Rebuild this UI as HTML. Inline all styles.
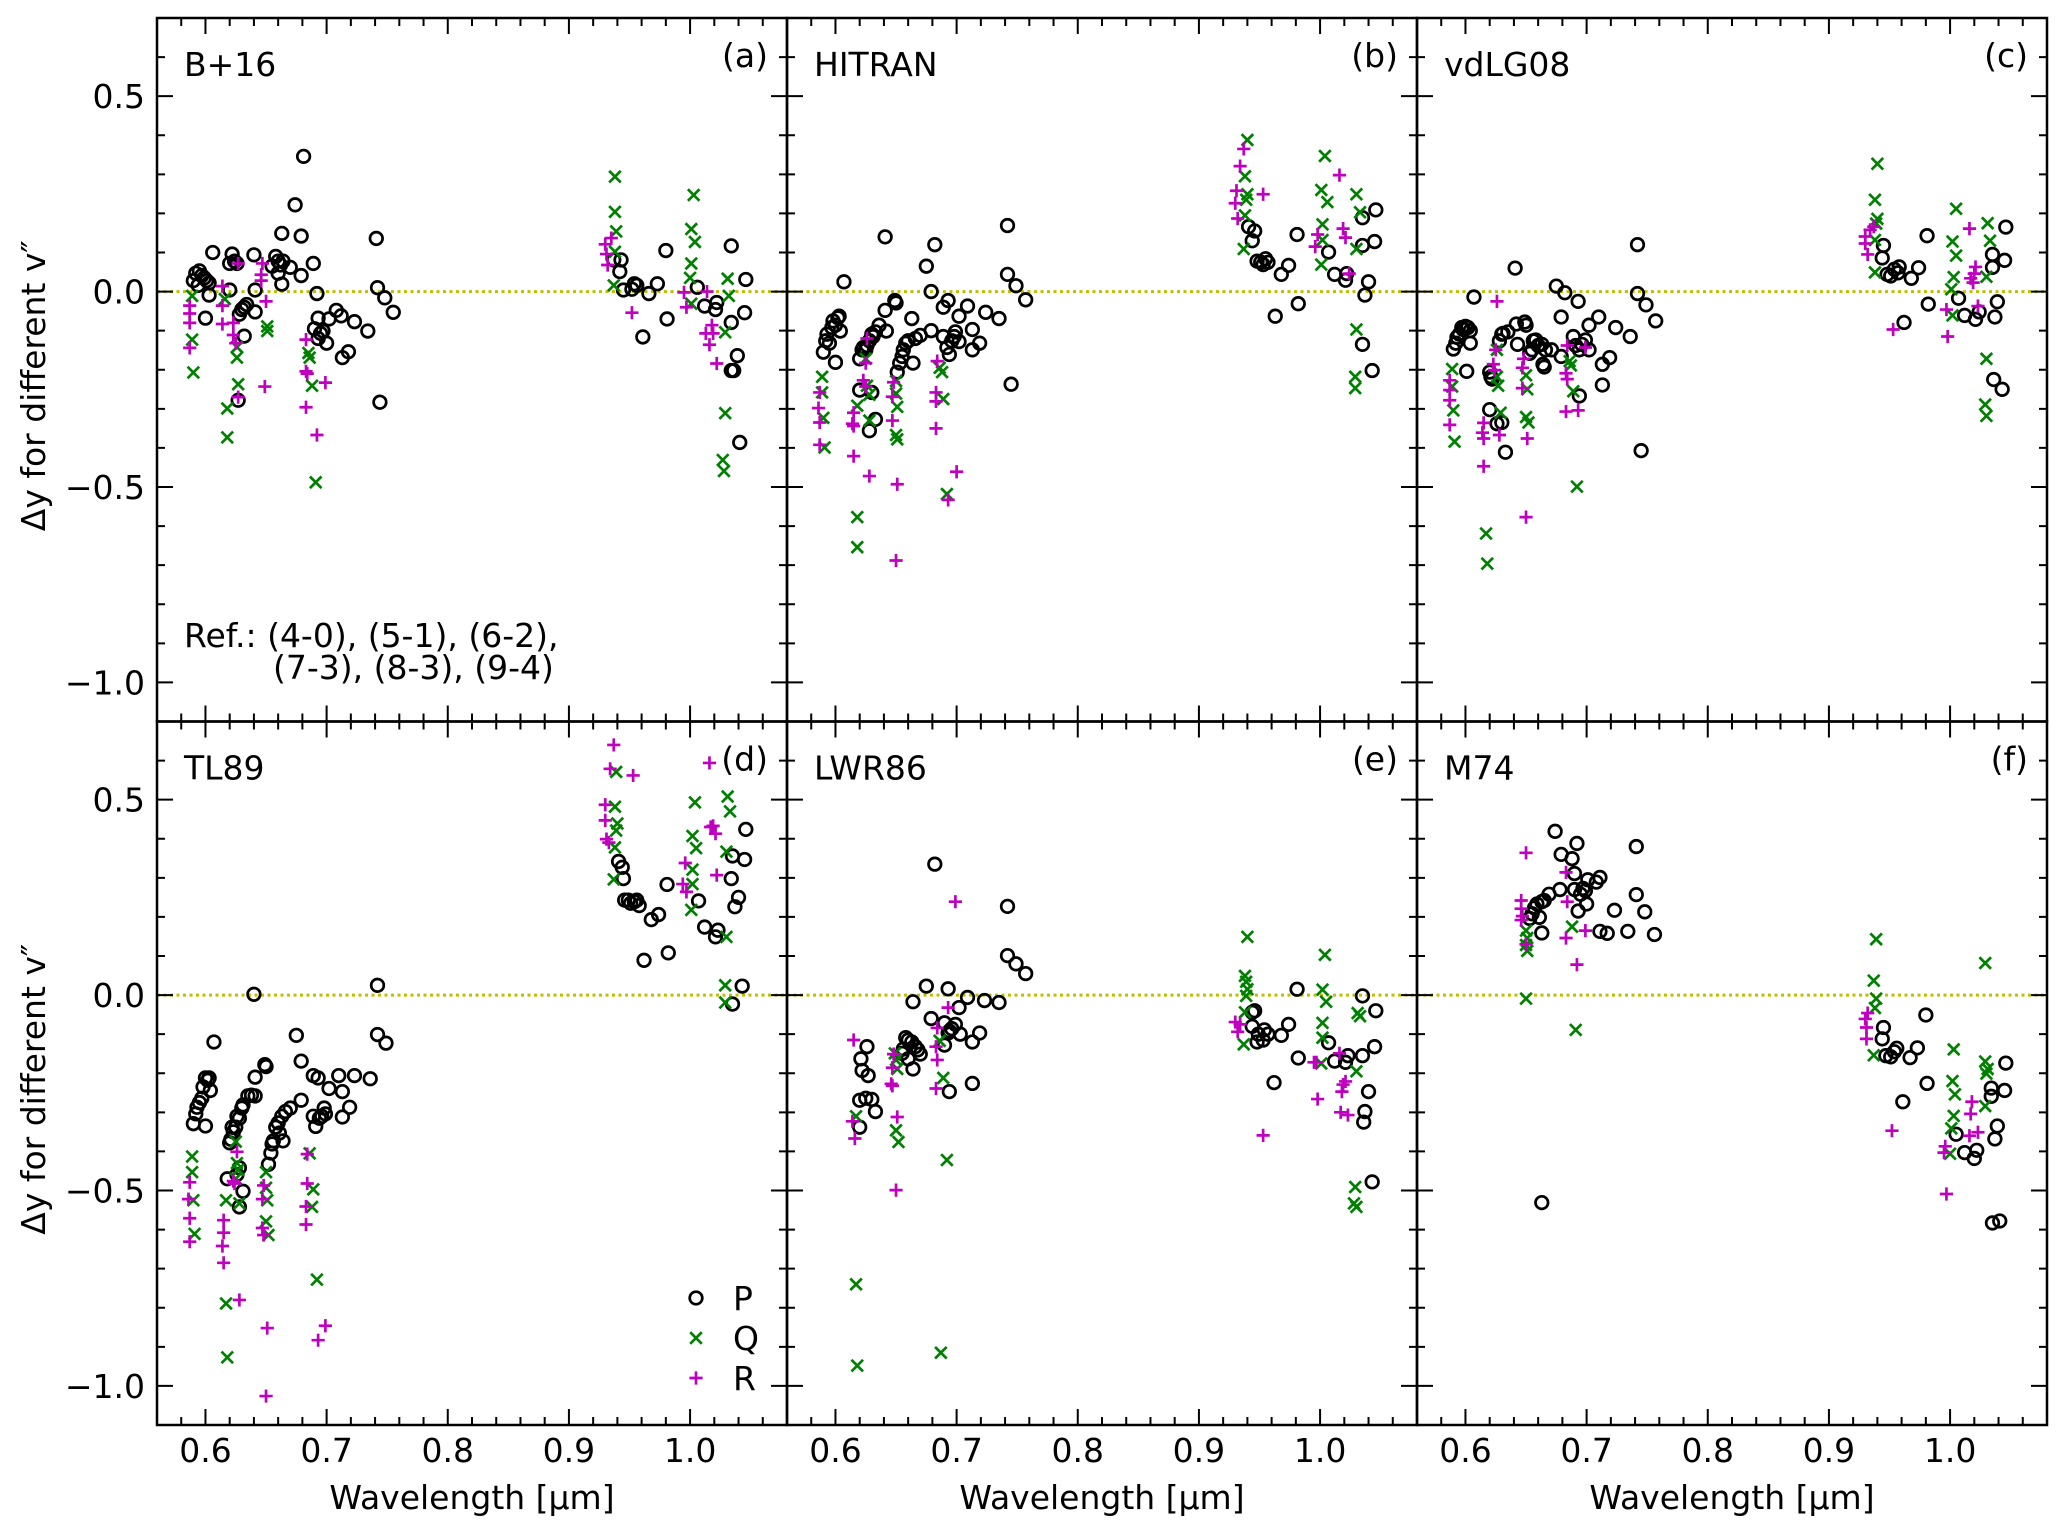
<!DOCTYPE html>
<html><head><meta charset="utf-8"><style>
html,body{margin:0;padding:0;background:#fff;}
svg{display:block;font-family:"DejaVu Sans","Liberation Sans",sans-serif;}
</style></head><body>
<svg id="chart" xmlns="http://www.w3.org/2000/svg" width="2067" height="1532" viewBox="0 0 2067 1532"></svg>
<script>
const panelNames=['B+16','HITRAN','vdLG08','TL89','LWR86','M74'];
const panelTags=['(a)','(b)','(c)','(d)','(e)','(f)'];
const xTicks=[0.6,0.7,0.8,0.9,1.0];
const xTickLabels=['0.6','0.7','0.8','0.9','1.0'];
const yTicks=[-1.0,-0.5,0.0,0.5];
const yTickLabels=['\u22121.0','\u22120.5','0.0','0.5'];

const aP=[[.590,.028],[.592,.047],[.595,.053],[.597,.041],[.599,.035],[.594,.016],[.601,.028],[.603,.022],[.606,.10],[.600,-.068],[.603,-.009],[.620,.072],[.622,.096],[.624,.078],[.626,.072],[.620,.004],[.632,-.04],[.630,-.046],[.628,-.058],[.634,-.033],[.632,-.114],[.627,-.278],[.640,.094],[.641,.004],[.641,-.052],[.658,.09],[.660,.078],[.655,.065],[.662,.068],[.664,.078],[.670,.062],[.660,.047],[.663,.149],[.663,.019],[.674,.222],[.679,.142],[.679,.041],[.681,.346],[.689,.072],[.692,-.005],[.693,-.068],[.690,-.095],[.693,-.12],[.695,-.107],[.697,-.101],[.700,-.132],[.702,-.07],[.708,-.048],[.712,-.062],[.713,-.169],[.718,-.154],[.723,-.077],[.734,-.101],[.741,.136],[.742,.01],[.748,-.016],[.744,-.283],[.755,-.053],[.937,.081],[.943,.081],[.942,.051],[.945,.004],[.952,.006],[.954,.02],[.956,.016],[.961,-.116],[.966,-.005],[.973,.02],[.980,.105],[.981,-.07],[1.006,.011],[1.012,-.037],[1.021,-.046],[1.022,-.028],[1.034,.117],[1.034,-.202],[1.036,-.202],[1.039,-.164],[1.034,-.079],[1.041,-.386],[1.045,-.054],[1.046,.031]];
const aQ=[[.589,-.011],[.589,-.123],[.590,-.207],[.618,-.299],[.618,-.373],[.616,-.019],[.626,-.142],[.626,-.169],[.627,-.237],[.651,-.089],[.651,-.101],[.691,-.488],[.688,-.241],[.686,-.169],[.685,-.157],[.938,.294],[.938,.204],[.939,.154],[.938,.102],[.937,.016],[1.003,.247],[1.001,.16],[1.004,.127],[1.001,.072],[1.000,.035],[1.001,-.031],[1.031,.033],[1.032,-.011],[1.029,-.104],[1.029,-.311],[1.027,-.431],[1.028,-.459]];
const aR=[[.587,-.036],[.587,-.056],[.587,-.08],[.587,-.144],[.614,.014],[.614,-.036],[.614,-.083],[.623,-.08],[.623,-.111],[.625,-.132],[.627,.072],[.627,-.27],[.647,.072],[.646,.043],[.646,.028],[.650,-.025],[.649,-.243],[.683,-.123],[.683,-.204],[.684,-.21],[.683,-.296],[.692,-.367],[.699,-.233],[.930,.121],[.931,.096],[.932,.068],[.935,.137],[.952,-.054],[.995,-.002],[.997,-.04],[1.014,0],[1.018,-.086],[1.019,-.107],[1.016,-.136],[1.022,-.184],[1.013,-.107]];

const bP=[[.607,.025],[.590,-.155],[.592,-.126],[.593,-.109],[.595,-.132],[.597,-.092],[.598,-.075],[.600,-.086],[.602,-.067],[.603,-.063],[.604,-.101],[.600,-.181],[.620,-.172],[.620,-.252],[.622,-.149],[.623,-.143],[.625,-.149],[.626,-.138],[.628,-.126],[.630,-.109],[.631,-.115],[.633,-.103],[.636,-.086],[.630,-.258],[.633,-.327],[.628,-.356],[.641,.14],[.641,-.048],[.642,-.101],[.649,-.023],[.650,-.029],[.651,-.206],[.653,-.183],[.655,-.166],[.656,-.149],[.658,-.132],[.660,-.126],[.663,-.069],[.664,-.183],[.666,-.12],[.670,-.112],[.675,.065],[.679,0],[.679,-.1],[.682,.12],[.689,-.04],[.689,-.115],[.693,-.023],[.692,-.143],[.694,-.161],[.696,-.126],[.698,-.115],[.699,-.103],[.702,-.128],[.702,-.063],[.709,-.037],[.713,-.097],[.713,-.149],[.719,-.132],[.724,-.053],[.735,-.069],[.742,.169],[.742,.044],[.745,-.237],[.749,.015],[.757,-.021],[.941,.166],[.946,.155],[.944,.13],[.948,.078],[.951,.075],[.953,.069],[.955,.084],[.957,.075],[.968,.044],[.974,.067],[.963,-.063],[.981,.146],[.982,-.031],[1.007,.101],[1.012,.044],[1.021,.029],[1.022,.046],[1.035,.189],[1.035,.118],[1.040,.025],[1.037,-.009],[1.035,-.135],[1.043,-.202],[1.046,.209],[1.045,.128]];
const bQ=[[.589,-.218],[.589,-.258],[.590,-.323],[.591,-.399],[.618,-.292],[.618,-.577],[.618,-.654],[.625,-.172],[.626,-.241],[.628,-.264],[.628,-.33],[.650,-.229],[.650,-.261],[.651,-.295],[.650,-.367],[.651,-.378],[.686,-.195],[.688,-.206],[.689,-.275],[.692,-.518],[.940,.388],[.938,.295],[.940,.249],[.939,.235],[.938,.195],[.937,.109],[1.004,.347],[1.001,.26],[1.006,.229],[1.002,.172],[1.002,.132],[1.001,.069],[1.030,.249],[1.033,.203],[1.030,.109],[1.030,-.097],[1.029,-.218],[1.029,-.247]];
const bR=[[.587,-.258],[.586,-.298],[.587,-.335],[.587,-.392],[.615,-.31],[.614,-.338],[.615,-.344],[.615,-.421],[.628,-.472],[.623,-.227],[.626,-.12],[.625,-.183],[.625,-.243],[.648,-.232],[.647,-.269],[.647,-.33],[.651,-.493],[.650,-.688],[.684,-.178],[.683,-.258],[.683,-.281],[.683,-.35],[.700,-.461],[.693,-.533],[.937,.365],[.934,.321],[.931,.258],[.930,.226],[.932,.187],[.953,.249],[1.016,.298],[.998,.146],[.996,.115],[1.019,.161],[1.021,.138],[1.024,.046]];

const cP=[[.607,-.014],[.590,-.147],[.592,-.132],[.593,-.117],[.595,-.109],[.597,-.092],[.598,-.097],[.600,-.089],[.602,-.092],[.604,-.1],[.604,-.132],[.601,-.204],[.620,-.206],[.621,-.218],[.622,-.224],[.620,-.302],[.626,-.338],[.630,-.335],[.633,-.411],[.628,-.126],[.630,-.109],[.631,-.107],[.635,-.103],[.641,.06],[.642,-.083],[.643,-.135],[.649,-.078],[.650,-.086],[.653,-.158],[.655,-.149],[.656,-.126],[.658,-.124],[.660,-.138],[.663,-.135],[.664,-.186],[.665,-.193],[.666,-.149],[.671,-.149],[.675,.014],[.679,-.065],[.679,-.166],[.682,-.003],[.689,-.115],[.691,-.138],[.693,-.025],[.694,-.149],[.696,-.135],[.699,-.124],[.702,-.149],[.694,-.267],[.702,-.086],[.710,-.065],[.713,-.186],[.713,-.239],[.719,-.169],[.724,-.092],[.736,-.115],[.742,.12],[.742,-.005],[.749,-.034],[.757,-.075],[.745,-.407],[.945,.118],[.944,.086],[.948,.044],[.951,.04],[.954,.057],[.957,.048],[.958,.063],[.968,.034],[.974,.061],[.962,-.079],[.981,.143],[.982,-.032],[1.007,-.017],[1.012,-.061],[1.021,-.071],[1.024,-.052],[1.035,.095],[1.035,.062],[1.039,-.026],[1.037,-.065],[1.036,-.225],[1.043,-.25],[1.046,.165],[1.045,.08]];
const cQ=[[.589,-.198],[.589,-.243],[.590,-.304],[.591,-.384],[.626,-.149],[.626,-.218],[.627,-.241],[.629,-.31],[.617,-.619],[.618,-.696],[.650,-.214],[.651,-.25],[.650,-.321],[.652,-.335],[.686,-.178],[.687,-.189],[.689,-.255],[.692,-.499],[.940,.327],[.938,.235],[.940,.186],[.939,.174],[.938,.132],[.938,.049],[1.005,.212],[1.002,.128],[1.005,.092],[1.003,.037],[1.001,.006],[1.002,-.061],[1.031,.175],[1.033,.13],[1.030,.038],[1.030,-.172],[1.029,-.289],[1.030,-.318]];
const cR=[[.587,-.227],[.587,-.252],[.587,-.278],[.587,-.341],[.615,-.336],[.614,-.361],[.615,-.376],[.615,-.447],[.626,-.025],[.625,-.149],[.623,-.186],[.624,-.201],[.628,-.367],[.648,-.172],[.647,-.195],[.647,-.247],[.651,-.376],[.650,-.577],[.684,-.138],[.683,-.209],[.684,-.224],[.683,-.307],[.693,-.304],[.699,-.143],[.937,.166],[.934,.158],[.930,.141],[.930,.123],[.932,.095],[.953,-.097],[1.016,.161],[.997,-.046],[.998,-.115],[1.021,.063],[1.020,.046],[1.019,.023],[1.017,.034],[1.023,-.037]];

const dP=[[.607,-.12],[.590,-.329],[.592,-.304],[.593,-.287],[.595,-.275],[.597,-.264],[.598,-.235],[.600,-.212],[.602,-.218],[.603,-.212],[.604,-.244],[.600,-.335],[.618,-.47],[.620,-.378],[.621,-.369],[.622,-.338],[.623,-.35],[.625,-.338],[.626,-.31],[.628,-.315],[.630,-.289],[.631,-.281],[.635,-.258],[.638,-.256],[.641,-.21],[.641,-.258],[.628,-.442],[.626,-.459],[.631,-.502],[.628,-.542],[.640,.002],[.649,-.178],[.650,-.183],[.652,-.433],[.654,-.404],[.655,-.381],[.656,-.373],[.658,-.338],[.660,-.327],[.661,-.353],[.663,-.31],[.664,-.373],[.666,-.298],[.670,-.289],[.675,-.103],[.679,-.169],[.679,-.269],[.689,-.31],[.689,-.206],[.691,-.336],[.693,-.212],[.694,-.315],[.696,-.31],[.698,-.289],[.699,-.304],[.702,-.239],[.710,-.206],[.713,-.247],[.713,-.312],[.719,-.287],[.723,-.206],[.736,-.214],[.742,.025],[.742,-.101],[.749,-.123],[.941,.342],[.944,.327],[.945,.298],[.946,.243],[.949,.243],[.951,.235],[.954,.239],[.956,.243],[.958,.229],[.968,.193],[.974,.206],[.962,.089],[.981,.283],[.982,.108],[1.007,.241],[1.012,.174],[1.021,.149],[1.023,.166],[1.035,.356],[1.034,.298],[1.040,.25],[1.037,.226],[1.035,-.023],[1.043,.023],[1.046,.424],[1.045,.347]];
const dQ=[[.589,-.413],[.589,-.453],[.590,-.525],[.591,-.611],[.617,-.525],[.617,-.789],[.618,-.927],[.625,-.375],[.626,-.43],[.627,-.447],[.628,-.533],[.625,-.47],[.650,-.453],[.650,-.493],[.651,-.525],[.650,-.579],[.652,-.614],[.686,-.405],[.689,-.497],[.688,-.542],[.692,-.728],[.939,.571],[.938,.482],[.940,.439],[.939,.421],[.938,.378],[.937,.296],[1.004,.493],[1.002,.407],[1.005,.376],[1.002,.321],[1.002,.284],[1.001,.218],[1.031,.508],[1.033,.47],[1.030,.367],[1.030,.149],[1.029,.025],[1.029,-.019]];
const dR=[[.587,-.479],[.586,-.522],[.587,-.571],[.587,-.631],[.615,-.576],[.615,-.608],[.614,-.642],[.615,-.685],[.623,-.476],[.624,-.482],[.626,-.401],[.628,-.78],[.648,-.487],[.647,-.522],[.647,-.596],[.648,-.614],[.651,-.852],[.650,-1.026],[.684,-.407],[.684,-.482],[.683,-.541],[.683,-.587],[.699,-.846],[.693,-.883],[.937,.64],[.934,.579],[.930,.487],[.930,.447],[.931,.399],[.933,.39],[.953,.562],[1.016,.594],[.996,.338],[.994,.284],[.997,.264],[1.019,.433],[1.021,.413],[1.017,.43],[1.022,.307]];

const eP=[[.682,.335],[.742,.227],[.742,.101],[.749,.08],[.757,.055],[.675,.023],[.693,.016],[.664,-.017],[.709,-.006],[.723,-.014],[.735,-.019],[.702,-.032],[.679,-.06],[.690,-.071],[.699,-.075],[.696,-.086],[.694,-.092],[.693,-.097],[.703,-.1],[.719,-.097],[.713,-.12],[.690,-.128],[.658,-.109],[.660,-.115],[.663,-.12],[.666,-.132],[.668,-.14],[.670,-.151],[.656,-.138],[.655,-.149],[.660,-.163],[.664,-.189],[.626,-.132],[.621,-.163],[.622,-.193],[.627,-.206],[.620,-.269],[.625,-.264],[.630,-.267],[.633,-.298],[.620,-.338],[.694,-.247],[.713,-.226],[.944,-.044],[.946,-.04],[.944,-.08],[.949,-.1],[.954,-.089],[.957,-.1],[.948,-.12],[.953,-.115],[.968,-.103],[.974,-.075],[.982,-.161],[.962,-.224],[.981,.015],[1.007,-.122],[1.012,-.169],[1.021,-.172],[1.023,-.155],[1.035,-.002],[1.035,-.155],[1.040,-.247],[1.037,-.298],[1.036,-.325],[1.046,-.04],[1.045,-.132],[1.043,-.478]];
const eQ=[[.617,-.31],[.617,-.74],[.618,-.948],[.649,-.149],[.650,-.166],[.651,-.189],[.650,-.346],[.652,-.376],[.686,-.117],[.689,-.212],[.692,-.422],[.687,-.915],[.940,.149],[.938,.049],[.939,.034],[.940,.015],[.939,-.002],[.938,-.044],[.937,-.126],[1.004,.103],[1.002,.014],[1.005,-.017],[1.002,-.071],[1.002,-.109],[1.001,-.175],[1.031,-.046],[1.033,-.054],[1.030,-.195],[1.029,-.491],[1.028,-.533],[1.030,-.542]];
const eR=[[.615,-.115],[.614,-.323],[.616,-.367],[.648,-.151],[.647,-.186],[.646,-.227],[.647,-.232],[.651,-.312],[.650,-.499],[.684,-.084],[.683,-.132],[.684,-.166],[.683,-.239],[.693,-.032],[.699,.239],[.930,-.069],[.934,-.075],[.932,-.094],[.953,-.359],[.997,-.172],[.995,-.172],[.998,-.266],[1.016,-.149],[1.021,-.221],[1.019,-.229],[1.018,-.247],[1.017,-.3],[1.023,-.307]];

const fP=[[.674,.419],[.692,.388],[.679,.36],[.688,.349],[.690,.311],[.701,.295],[.711,.301],[.708,.289],[.697,.273],[.699,.267],[.695,.258],[.690,.27],[.678,.27],[.669,.258],[.665,.242],[.663,.239],[.659,.233],[.657,.223],[.655,.208],[.653,.196],[.661,.199],[.663,.159],[.700,.233],[.693,.215],[.723,.217],[.711,.163],[.717,.158],[.734,.163],[.741,.38],[.741,.257],[.748,.213],[.756,.155],[.663,-.531],[.945,-.083],[.944,-.112],[.947,-.155],[.951,-.158],[.954,-.145],[.956,-.136],[.967,-.16],[.973,-.135],[.980,-.051],[.981,-.226],[.961,-.273],[1.005,-.356],[1.012,-.403],[1.020,-.418],[1.022,-.397],[1.034,-.238],[1.034,-.259],[1.039,-.335],[1.037,-.368],[1.045,-.244],[1.046,-.174],[1.035,-.583],[1.041,-.578]];
const fQ=[[.650,.165],[.651,.146],[.650,.128],[.651,.113],[.650,-.009],[.688,.175],[.691,-.089],[.939,.143],[.937,.037],[.939,-.009],[.938,-.033],[.937,-.154],[1.029,.082],[1.003,-.139],[1.002,-.22],[1.004,-.254],[1.003,-.309],[1.001,-.341],[1.000,-.406],[1.029,-.17],[1.031,-.189],[1.030,-.201],[1.029,-.284]];
const fR=[[.650,.364],[.646,.242],[.646,.221],[.647,.202],[.646,.192],[.650,.13],[.683,.314],[.683,.146],[.684,.239],[.699,.165],[.692,.078],[.932,-.046],[.930,-.061],[.931,-.083],[.931,-.112],[.952,-.347],[.996,-.387],[.995,-.403],[.997,-.509],[1.018,-.273],[1.017,-.304],[1.016,-.36],[1.023,-.351]];

const seriesP=[aP,bP,cP,dP,eP,fP];
const seriesQ=[aQ,bQ,cQ,dQ,eQ,fQ];
const seriesR=[aR,bR,cR,dR,eR,fR];

const NS='http://www.w3.org/2000/svg';
const svg=document.getElementById('chart');
function mk(tag,attrs,parent){const e=document.createElementNS(NS,tag);for(const k in attrs)e.setAttribute(k,attrs[k]);(parent||svg).appendChild(e);return e;}
const PW=630,PH=703.5,X0=157,Y0=18,XMIN=0.56,XMAX=1.08,YMIN=-1.1,YMAX=0.7;
const GREEN='#008000',MAG='#bf00bf';

function circle(g,x,y){const e=mk('circle',{cx:x,cy:y,r:6.3,fill:'none',stroke:'#000','stroke-width':2.7},g);

}
function cross(g,x,y){const s=5.8;const e=mk('path',{d:`M${x-s},${y-s}L${x+s},${y+s}M${x-s},${y+s}L${x+s},${y-s}`,stroke:GREEN,'stroke-width':2.7,fill:'none'},g);

}
function plus(g,x,y){const s=6.6;const e=mk('path',{d:`M${x-s},${y}L${x+s},${y}M${x},${y-s}L${x},${y+s}`,stroke:MAG,'stroke-width':2.7,fill:'none'},g);

}

for(let i=0;i<6;i++){
  const col=i%3,row=Math.floor(i/3);
  const L=X0+PW*col,T=Y0+PH*row;
  const xs=v=>L+(v-XMIN)/(XMAX-XMIN)*PW;
  const ys=v=>T+(YMAX-v)/(YMAX-YMIN)*PH;
  const g=mk('g',{});
  
  
  const z=mk('line',{x1:L,x2:L+PW,y1:ys(0),y2:ys(0),stroke:'#bfbf00','stroke-width':3,'stroke-dasharray':'3 3.5'},g);
  
  
  let d='';
  for(let k=0;k<=26;k++){const v=0.56+k*0.02;if(v>XMAX+1e-9)break;const x=xs(v);const major=Math.abs(v*10-Math.round(v*10))<1e-6;const len=major?16:8;d+=`M${x},${T+PH}v${-len}M${x},${T}v${len}`;}
  for(let k=-11;k<=7;k++){const v=k/10;const y=ys(v);const major=(k%5===0);const len=major?16:8;d+=`M${L},${y}h${len}M${L+PW},${y}h${-len}`;}
  const tk=mk('path',{d:d,stroke:'#000','stroke-width':2,fill:'none'},g);
  
  
  seriesP[i].forEach(p=>circle(g,xs(p[0]),ys(p[1])));
  seriesQ[i].forEach(p=>cross(g,xs(p[0]),ys(p[1])));
  seriesR[i].forEach(p=>plus(g,xs(p[0]),ys(p[1])));
  const fr=mk('rect',{x:L,y:T,width:PW,height:PH,fill:'none',stroke:'#000','stroke-width':2.5},g);
  
  
  const t=mk('text',{x:L+27,y:T+58,'font-size':33,fill:'#000'},g);t.textContent=panelNames[i];
  
  
  const tg=mk('text',{x:L+PW-19,y:T+49,'font-size':33,'text-anchor':'end',fill:'#000'},g);tg.textContent=panelTags[i];
  
  
  if(row===1){
    xTicks.forEach((v,k)=>{const e=mk('text',{x:xs(v),y:1462,'font-size':33,'text-anchor':'middle'},g);e.textContent=xTickLabels[k];
      
      });
    const xl=mk('text',{x:L+PW/2,y:1509,'font-size':33,'text-anchor':'middle'},g);xl.textContent='Wavelength [\u00b5m]';
    
    
  }
  if(col===0){
    yTicks.forEach((v,k)=>{const e=mk('text',{x:145,y:ys(v)+12,'font-size':33,'text-anchor':'end'},g);e.textContent=yTickLabels[k];
      
      });
    const cy=T+PH/2+16;
    const yl=mk('text',{x:0,y:0,'font-size':33,'text-anchor':'middle',transform:`translate(45,${cy}) rotate(-90)`},g);yl.textContent='\u0394y for different v\u2033';
    
    
  }
  if(i===0){
    const r1=mk('text',{x:184,y:647,'font-size':33},g);r1.textContent='Ref.: (4-0), (5-1), (6-2),';
    
    
    const r2=mk('text',{x:273,y:679,'font-size':33},g);r2.textContent='(7-3), (8-3), (9-4)';
    
    
  }
  if(i===3){
    const lg=mk('g',{},g);
    
    
    circle(lg,696,1298);cross(lg,696,1338);plus(lg,696,1378);
    ['P','Q','R'].forEach((s,k)=>{const e=mk('text',{x:733,y:1310+40*k,'font-size':33},lg);e.textContent=s;
      
      });
  }
}
</script>
</body></html>
